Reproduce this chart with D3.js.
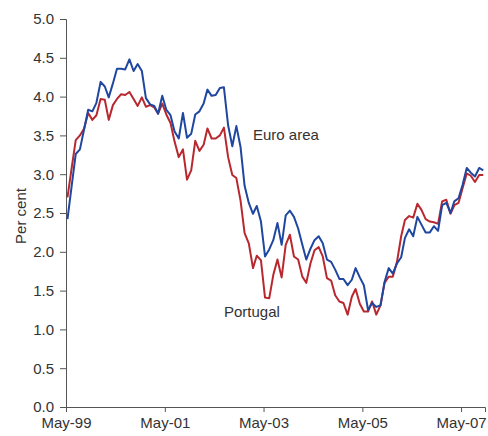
<!DOCTYPE html>
<html>
<head>
<meta charset="utf-8">
<script src="https://cdn.jsdelivr.net/npm/d3@7"></script>
<style>
  body { margin: 0; background: #fff; }
  text { font-family: "Liberation Sans", Arial, sans-serif; fill: #333; }
</style>
</head>
<body>
<div id="chart"></div>
<script>
// monthly values, first month May-99
var startMonth = "May-99";
var euroArea = [
  2.42, 2.85, 3.26, 3.32, 3.58, 3.83, 3.81, 3.92, 4.19, 4.13,
  3.99, 4.17, 4.36, 4.36, 4.35, 4.48, 4.33, 4.42, 4.33, 3.98,
  3.90, 3.88, 3.78, 4.01, 3.83, 3.76, 3.55, 3.46, 3.79, 3.47,
  3.52, 3.77, 3.81, 3.91, 4.09, 4.01, 4.02, 4.11, 4.12, 3.63,
  3.36, 3.62, 3.35, 2.85, 2.63, 2.49, 2.59, 2.39, 1.94, 2.03,
  2.15, 2.37, 2.09, 2.47, 2.53, 2.45, 2.30, 2.09, 1.90, 2.04,
  2.15, 2.20, 2.11, 1.90, 1.87, 1.77, 1.65, 1.65, 1.57, 1.64,
  1.79, 1.67, 1.57, 1.25, 1.34, 1.29, 1.31, 1.61, 1.79, 1.72,
  1.85, 1.93, 2.18, 2.29, 2.20, 2.45, 2.35, 2.25, 2.25, 2.33,
  2.27, 2.60, 2.63, 2.50, 2.65, 2.69, 2.86, 3.08, 3.02, 2.97,
  3.08, 3.05
];
var portugal = [
  2.70, 3.08, 3.44, 3.50, 3.59, 3.79, 3.70, 3.76, 3.97, 3.96,
  3.70, 3.89, 3.97, 4.03, 4.02, 4.06, 3.97, 3.88, 3.99, 3.87,
  3.89, 3.86, 3.78, 3.91, 3.77, 3.66, 3.42, 3.22, 3.32, 2.93,
  3.05, 3.43, 3.30, 3.38, 3.59, 3.46, 3.46, 3.50, 3.60, 3.22,
  2.99, 2.95, 2.66, 2.24, 2.11, 1.79, 1.95, 1.89, 1.41, 1.40,
  1.70, 1.90, 1.67, 2.09, 2.22, 1.94, 1.90, 1.68, 1.60, 1.85,
  2.02, 2.06, 1.94, 1.66, 1.63, 1.44, 1.36, 1.34, 1.19, 1.42,
  1.52, 1.33, 1.23, 1.23, 1.36, 1.19, 1.31, 1.60, 1.68, 1.68,
  1.87, 2.20, 2.41, 2.46, 2.44, 2.62, 2.54, 2.42, 2.39, 2.38,
  2.36, 2.65, 2.67, 2.49, 2.60, 2.63, 2.82, 3.01, 2.98, 2.90,
  2.99, 2.99
];
var xTickLabels = ["May-99", "May-01", "May-03", "May-05", "May-07"];
var yTicks = [0.0, 0.5, 1.0, 1.5, 2.0, 2.5, 3.0, 3.5, 4.0, 4.5, 5.0];

var w = 488, h = 436;
var margin = { top: 19, right: 3, bottom: 29, left: 66 };

var parseMonth = d3.timeParse("%b-%y");
var formatMonth = d3.timeFormat("%b-%y");
var start = parseMonth(startMonth);

// observations sit a little inside each month
function monthDate(i) {
  var d = d3.timeMonth.offset(start, i);
  return d3.timeDay.offset(d, 11);
}

var svg = d3.select("#chart")
  .append("svg")
  .attr("width", w)
  .attr("height", h);

var x = d3.scaleTime()
  .domain([start, new Date(2007, 9, 25)])
  .range([margin.left, w - margin.right]);

var y = d3.scaleLinear()
  .domain([0, 5])
  .range([h - margin.bottom, margin.top]);

// axes
var xAxis = d3.axisBottom(x)
  .tickValues(xTickLabels.map(parseMonth))
  .tickFormat(formatMonth)
  .tickSizeOuter(0)
  .tickSize(5)
  .tickPadding(5);

var yAxis = d3.axisLeft(y)
  .tickValues(yTicks)
  .tickFormat(d3.format(".1f"))
  .tickSizeOuter(0)
  .tickSize(6)
  .tickPadding(6);

var gx = svg.append("g")
  .attr("transform", "translate(0," + (h - margin.bottom) + ")")
  .call(xAxis);

var gy = svg.append("g")
  .attr("transform", "translate(" + margin.left + ",0)")
  .call(yAxis);

[gx, gy].forEach(function(g) {
  g.selectAll("path, line").attr("stroke", "#555").attr("stroke-width", 1);
  g.selectAll("text")
    .attr("font-size", "15px")
    .attr("font-family", "Liberation Sans, Arial, sans-serif")
    .attr("fill", "#333");
});

svg.append("text")
  .attr("transform", "translate(26," + 216 + ") rotate(-90)")
  .attr("text-anchor", "middle")
  .attr("font-size", "15px")
  .text("Per cent");

// lines
var line = d3.line()
  .x(function(d, i) { return x(monthDate(i)); })
  .y(function(d) { return y(d); });

svg.append("path")
  .datum(portugal)
  .attr("fill", "none")
  .attr("stroke", "#b8282f")
  .attr("stroke-width", 2)
  .attr("stroke-linejoin", "round")
  .attr("d", line);

svg.append("path")
  .datum(euroArea)
  .attr("fill", "none")
  .attr("stroke", "#1f47a0")
  .attr("stroke-width", 2)
  .attr("stroke-linejoin", "round")
  .attr("d", line);

// series labels
svg.append("text")
  .attr("x", 253)
  .attr("y", 140)
  .attr("font-size", "15px")
  .text("Euro area");

svg.append("text")
  .attr("x", 224)
  .attr("y", 317)
  .attr("font-size", "15px")
  .text("Portugal");
</script>
</body>
</html>
